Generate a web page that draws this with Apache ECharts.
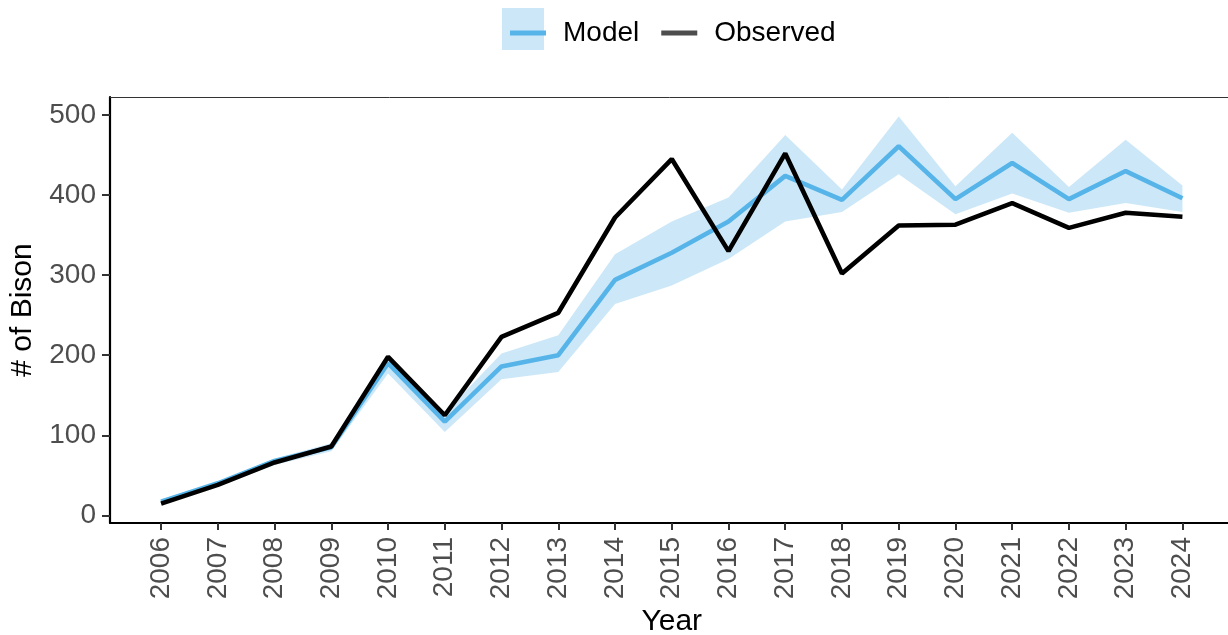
<!DOCTYPE html>
<html>
<head>
<meta charset="utf-8">
<script src="https://cdn.jsdelivr.net/npm/echarts@6/dist/echarts.min.js"></script>
<style>
html,body{margin:0;padding:0;background:#fff;}
#chart{width:1228px;height:635px;}
</style>
</head>
<body>
<div id="chart"></div>
<script>
const years = [2006,2007,2008,2009,2010,2011,2012,2013,2014,2015,2016,2017,2018,2019,2020,2021,2022,2023,2024];
const observed = [14.6,38,66,86,198,125,223,253,372,445,330,452,302,362,363,390,359,378,373];
const modelMean = [17,40,68,85,190,117,186,200,294,328,367,424,394,461,395,440,395,430,396];
const modelLower = [15,37,63,80,177,104,170,179,264,287,320,367,379,426,376,402,378,390,379];
const modelUpper = [20,42,71,90,200,128,202,225,326,367,397,475,407,498,411,478,410,469,412];
const yTicks = [0,100,200,300,400,500];

const FONT = '"Liberation Sans", Arial, sans-serif';
const BLUE = '#56B4E9';
const BAND = '#CCE8F8';

const pairs = (arr) => years.map((y, i) => [y, arr[i]]);
const bandData = years.map((y, i) => [y, modelLower[i], modelUpper[i]]);

const chart = echarts.init(document.getElementById('chart'), null, {renderer: 'canvas'});
chart.setOption({
  animation: false,
  backgroundColor: '#fff',
  textStyle: {fontFamily: FONT},
  graphic: [{
    type: 'rect', left: 502, top: 8, z: 0,
    shape: {width: 42, height: 42},
    style: {fill: BAND}
  }],
  legend: {
    top: 14, left: 505,
    itemWidth: 36, itemHeight: 5, itemGap: 22,
    selectedMode: false,
    textStyle: {fontFamily: FONT, fontSize: 28, color: '#000', padding: [0, 0, 0, 12]},
    data: [
      {name: 'Model', icon: 'rect', itemStyle: {color: BLUE}},
      {name: 'Observed', icon: 'rect', itemStyle: {color: '#4D4D4D'}}
    ],
    z: 5
  },
  grid: {left: 110, right: -5.5, top: 97, bottom: 112, containLabel: false, outerBoundsMode: 'none'},
  xAxis: [{
    type: 'value', min: 2005.1, max: 2024.9,
    name: 'Year', nameLocation: 'middle', nameGap: 84,
    nameTextStyle: {fontFamily: FONT, fontSize: 30, color: '#000'},
    axisLine: {show: true, onZero: false, lineStyle: {color: '#000', width: 2.2}},
    axisTick: {show: true, length: 7, customValues: years, lineStyle: {color: '#333', width: 2}},
    axisLabel: {show: true, customValues: years, rotate: 90, margin: 14,
      fontFamily: FONT, fontSize: 28, color: '#4D4D4D', formatter: (v) => String(v)},
    splitLine: {show: false}
  }, {
    type: 'value', min: 2005.1, max: 2024.9, position: 'top',
    axisLine: {show: true, onZero: false, lineStyle: {color: '#333', width: 1}},
    axisTick: {show: false}, axisLabel: {show: false}, splitLine: {show: false}
  }],
  yAxis: {
    type: 'value', min: -9.6, max: 522.5,
    name: '# of Bison', nameLocation: 'middle', nameGap: 72, nameRotate: 90,
    nameTextStyle: {fontFamily: FONT, fontSize: 30, color: '#000'},
    axisLine: {show: true, onZero: false, lineStyle: {color: '#000', width: 2.2}},
    axisTick: {show: true, length: 8, customValues: yTicks, lineStyle: {color: '#333', width: 2}},
    axisLabel: {show: true, customValues: yTicks, margin: 14,
      fontFamily: FONT, fontSize: 28, color: '#4D4D4D'},
    splitLine: {show: false}
  },
  series: [
    {
      name: 'band', type: 'custom', data: bandData, silent: true, z: 1,
      encode: {x: 0, y: [1, 2]},
      renderItem: function (params, api) {
        if (params.dataIndex !== 0) return null;
        const top = [], bottom = [];
        for (let i = 0; i < bandData.length; i++) {
          top.push(api.coord([bandData[i][0], bandData[i][2]]));
          bottom.push(api.coord([bandData[i][0], bandData[i][1]]));
        }
        return {
          type: 'polygon',
          shape: {points: top.concat(bottom.reverse())},
          style: {fill: BAND}
        };
      }
    },
    {
      name: 'Model', type: 'line', data: pairs(modelMean), symbol: 'none',
      lineStyle: {color: BLUE, width: 4.6}, itemStyle: {color: BLUE}, z: 2
    },
    {
      name: 'Observed', type: 'line', data: pairs(observed), symbol: 'none',
      lineStyle: {color: '#000', width: 4.6}, itemStyle: {color: '#000'}, z: 3
    }
  ]
});
</script>
</body>
</html>
